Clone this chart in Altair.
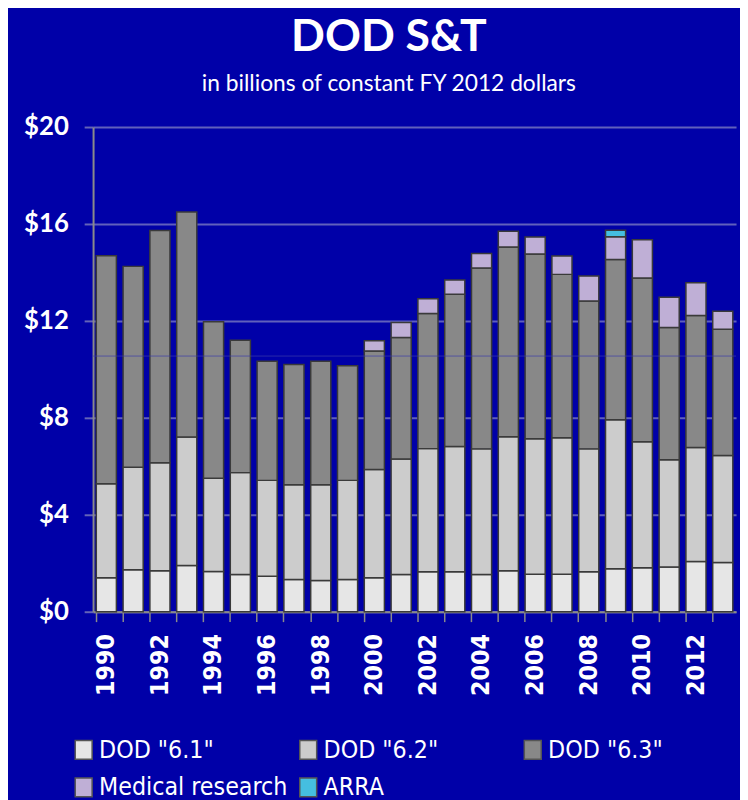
import altair as alt
import pandas as pd

years = [str(y) for y in range(1990, 2014)]

dod_61 = [1.40, 1.73, 1.69, 1.91, 1.66, 1.54, 1.46, 1.33, 1.29, 1.33, 1.40, 1.54,
          1.65, 1.65, 1.54, 1.69, 1.55, 1.55, 1.65, 1.77, 1.81, 1.85, 2.07, 2.03]
dod_62 = [3.88, 4.23, 4.46, 5.30, 3.85, 4.20, 3.96, 3.91, 3.95, 4.09, 4.47, 4.76,
          5.08, 5.17, 5.18, 5.53, 5.59, 5.63, 5.07, 6.15, 5.20, 4.42, 4.71, 4.42]
dod_63 = [9.41, 8.29, 9.58, 9.28, 6.46, 5.46, 4.92, 4.96, 5.10, 4.73, 4.89, 5.02,
          5.58, 6.28, 7.46, 7.83, 7.62, 6.74, 6.10, 6.61, 6.76, 5.46, 5.44, 5.21]
medical = [0, 0, 0, 0, 0, 0, 0, 0, 0, 0, 0.42, 0.61,
           0.60, 0.59, 0.60, 0.65, 0.70, 0.76, 1.03, 0.94, 1.58, 1.25, 1.35, 0.74]
arra = [0, 0, 0, 0, 0, 0, 0, 0, 0, 0, 0, 0,
        0, 0, 0, 0, 0, 0, 0, 0.27, 0, 0, 0, 0]

series_names = ['DOD "6.1"', 'DOD "6.2"', 'DOD "6.3"', 'Medical research', 'ARRA']
series_colors = ['#E6E6E6', '#CCCCCC', '#888888', '#BFAFD6', '#45BEE0']
y_ticks = [0, 4, 8, 12, 16, 20]
guide_line = [10.55]

rows = []
for i, yr in enumerate(years):
    for k, (name, vals) in enumerate(zip(series_names, [dod_61, dod_62, dod_63, medical, arra])):
        if vals[i] > 0:
            rows.append({"year": yr, "series": name, "value": vals[i], "order": k})
df = pd.DataFrame(rows)

rect_path = "M-0.9,-1L0.9,-1L0.9,1L-0.9,1Z"
narrow = "DejaVu Sans Condensed, Liberation Sans Narrow, sans-serif"

bars = alt.Chart(df).mark_bar(stroke="#3a3a3a", strokeWidth=1.5).encode(
    x=alt.X(
        "year:N", sort=years,
        scale=alt.Scale(paddingInner=0.25, paddingOuter=0.12),
        axis=alt.Axis(
            title=None, labelAngle=-90, bandPosition=0,
            labelExpr="toNumber(datum.value) % 2 == 0 ? datum.value : ''",
            labelFont="DejaVu Sans Condensed, DejaVu Sans", labelFontWeight="bold",
            labelFontSize=25,
            labelColor="white", labelPadding=12, tickSize=10, tickColor="#8a8a8a",
            tickWidth=1.5, domainColor="#8a8a8a", domainWidth=2, grid=False,
        ),
    ),
    y=alt.Y(
        "value:Q", stack="zero",
        scale=alt.Scale(domain=[0, 20], nice=False),
        axis=alt.Axis(
            title=None, values=y_ticks, labelExpr="'$' + datum.value",
            labelFont="Lato", labelFontWeight="bold", labelFontSize=26,
            labelColor="white", labelPadding=16, tickSize=9, tickColor="#6464b8",
            tickWidth=2, domainColor="#8a8a8a", domainWidth=2,
            grid=True, gridColor="#6060bc", gridWidth=2,
        ),
    ),
    color=alt.Color(
        "series:N", sort=series_names,
        scale=alt.Scale(domain=series_names, range=series_colors),
        legend=alt.Legend(
            title=None, orient="none", legendX=-22, legendY=617,
            direction="horizontal", columns=3, gridAlign="all",
            columnPadding=8, rowPadding=12, padding=0,
            symbolType=rect_path, symbolSize=361, symbolStrokeColor="#555555",
            symbolStrokeWidth=1.5, symbolOpacity=1,
            labelFont=narrow, labelFontSize=25, labelColor="white",
            labelOffset=3, labelLimit=400,
        ),
    ),
    order=alt.Order("order:Q"),
)

rule = alt.Chart(pd.DataFrame({"v": guide_line})).mark_rule(
    color="#3c3ca8", strokeWidth=1, opacity=0.7
).encode(y="v:Q")

chart = alt.layer(bars, rule).properties(
    width=650, height=490,
    padding={"left": 86, "top": 116, "right": 4, "bottom": 186},
    autosize=alt.AutoSizeParams(type="none"),
    title=alt.TitleParams(
        text="DOD S&T",
        subtitle="in billions of constant FY 2012 dollars",
        font="Lato", fontSize=45, fontWeight="bold", color="white",
        subtitleFont="Lato", subtitleFontSize=23, subtitleColor="white",
        anchor="middle", dx=-26, offset=18, subtitlePadding=14,
    ),
).configure(background="#0000A8").configure_view(stroke=None)

chart.save("out.html", embed_options={"renderer": "svg", "actions": False})
